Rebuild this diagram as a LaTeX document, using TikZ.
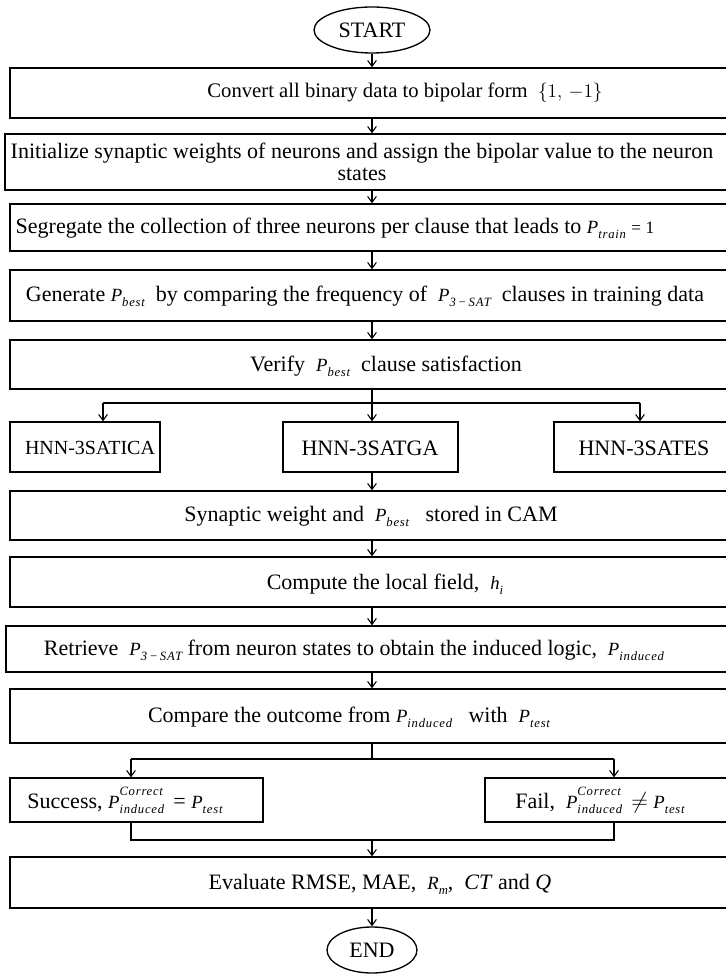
\documentclass[tikz,border=0pt]{standalone}
\usepackage{fontspec}
\setmainfont{Liberation Serif}
\newfontfamily\subfam[LetterSpace=6]{Liberation Serif}
\usetikzlibrary{shapes.geometric,arrows.meta,fit}
\newcommand\Pfont{\fontsize{14}{14}\selectfont}
\newcommand\subsz{\fontsize{9.5}{9.5}\selectfont\subfam\itshape}
\newcommand\Psub[1]{{\Pfont\textit{P}}\raisebox{-0.5ex}{\subsz #1}}
\newcommand\Pss[2]{{\Pfont\textit{P}}\rlap{\raisebox{1.3ex}{\subsz #1}}\raisebox{-0.5ex}{\subsz #2}}
\newcommand\fsz[1]{\fontsize{#1}{#1}\selectfont}
\begin{document}
\begin{tikzpicture}[x=0.75pt,y=-0.75pt,
  font=\fontsize{16.5}{16.5}\selectfont,
  box/.style={draw,line width=1pt,inner sep=0pt},
  oval/.style={draw,line width=1pt,ellipse,inner sep=0pt,minimum width=#1,minimum height=34.5pt},
  txt/.style={inner sep=0pt,align=center},
  conn/.style={line width=0.8pt},
  arr/.style={line width=0.8pt,-{Straight Barb[length=4.5pt,width=6.5pt]}}]
\useasboundingbox (0,0) rectangle (725,974);
\coordinate (col) at (372,0);
% nodes
\node[oval=87pt] (start) at (372,30) {START};
\node[box,fit={(10,68) (727,118)}] (convert) {};
\node[txt,font=\fsz{15.5}] (convertT) at (405,93) {Convert all binary data to bipolar form \ {\fsz{14}$\{1,\,-1\}$}};
\node[box,fit={(5,134) (727,190)}] (init) {};
\node[txt] (initT) at (362,162) {Initialize synaptic weights of neurons and assign the bipolar value to the neuron\\states};
\node[box,fit={(10,204) (727,251)}] (seg) {};
\node[txt] (segT) at (335,228) {Segregate the collection of three neurons per clause that leads to \Psub{train} {\fsz{13}= 1}};
\node[box,fit={(10,270) (727,321)}] (gen) {};
\node[txt] (genT) at (365,296) {Generate \Psub{best}\ \ by comparing the frequency of \ \Psub{3\,−\,SAT}\ \ clauses in training data};
\node[box,fit={(10,340) (727,389)}] (ver) {};
\node[txt] (verT) at (386,366) {Verify \ \Psub{best}\ \ clause satisfaction};
\node[box,fit={(10,422) (160,472)}] (ica) {};
\node[txt,font=\fsz{15}] (icaT) at (90,448) {HNN-3SATICA};
\node[box,fit={(283,422) (458,472)}] (ga) {};
\node[txt] (gaT) at (370,448) {HNN-3SATGA};
\node[box,fit={(554,422) (727,472)}] (es) {};
\node[txt] (esT) at (644,448) {HNN-3SATES};
\node[box,fit={(10,491) (727,540)}] (syn) {};
\node[txt] (synT) at (371,516) {Synaptic weight and \ \Psub{best}\ \ \ stored in CAM};
\node[box,fit={(10,557) (727,607)}] (comp) {};
\node[txt] (compT) at (385,584) {Compute the local field, \ {\Pfont\textit{h}}\raisebox{-0.5ex}{\subsz i}};
\node[box,fit={(6,626) (727,672)}] (retr) {};
\node[txt] (retrT) at (354,650) {Retrieve \ \Psub{3\,−\,SAT}\ from neuron states to obtain the induced logic, \ \Psub{induced}};
\node[box,fit={(10,689) (727,743)}] (cmp) {};
\node[txt] (cmpT) at (349,717) {Compare the outcome from \Psub{induced}\ \ \ with \ \Psub{test}};
\node[box,fit={(10,778) (263,822)}] (succ) {};
\node[txt] (succT) at (125,800) {Success, \Pss{Correct}{induced} \,= \Psub{test}};
\node[box,fit={(485,778) (727,822)}] (fail) {};
\node[txt] (failT) at (600,800) {Fail, \ \Pss{Correct}{induced} \,$\neq$ \Psub{test}};
\node[box,fit={(10,857) (727,908)}] (eval) {};
\node[txt] (evalT) at (380,884) {Evaluate RMSE, MAE, \ {\Pfont\textit{R}}\raisebox{-0.5ex}{\subsz m}, \ \textit{CT} and \textit{Q}};
\node[oval=67.5pt] (end) at (372,950) {END};
% junction coordinates
\coordinate (s1) at (372,403);
\coordinate (s1l) at (103,403);
\coordinate (s1r) at (640,403);
\coordinate (s2) at (372,759);
\coordinate (s2l) at (131,759);
\coordinate (s2r) at (614,759);
\coordinate (m) at (372,840);
\coordinate (ml) at (131,840);
\coordinate (mr) at (614,840);
% connectors
\draw[arr] (start.south) -- (col |- convert.north);
\draw[arr] (col |- convert.south) -- (col |- init.north);
\draw[arr] (col |- init.south) -- (col |- seg.north);
\draw[arr] (col |- seg.south) -- (col |- gen.north);
\draw[arr] (col |- gen.south) -- (col |- ver.north);
\draw[conn] (col |- ver.south) -- (s1);
\draw[conn] (s1l) -- (s1r);
\draw[arr] (s1l) -- (s1l |- ica.north);
\draw[arr] (s1) -- (col |- ga.north);
\draw[arr] (s1r) -- (s1r |- es.north);
\draw[arr] (col |- ga.south) -- (col |- syn.north);
\draw[arr] (col |- syn.south) -- (col |- comp.north);
\draw[arr] (col |- comp.south) -- (col |- retr.north);
\draw[arr] (col |- retr.south) -- (col |- cmp.north);
\draw[conn] (col |- cmp.south) -- (s2);
\draw[conn] (s2l) -- (s2r);
\draw[arr] (s2l) -- (s2l |- succ.north);
\draw[arr] (s2r) -- (s2r |- fail.north);
\draw[conn] (ml |- succ.south) -- (ml) -- (mr) -- (mr |- fail.south);
\draw[arr] (m) -- (col |- eval.north);
\draw[arr] (col |- eval.south) -- (end.north);
\end{tikzpicture}
\end{document}
